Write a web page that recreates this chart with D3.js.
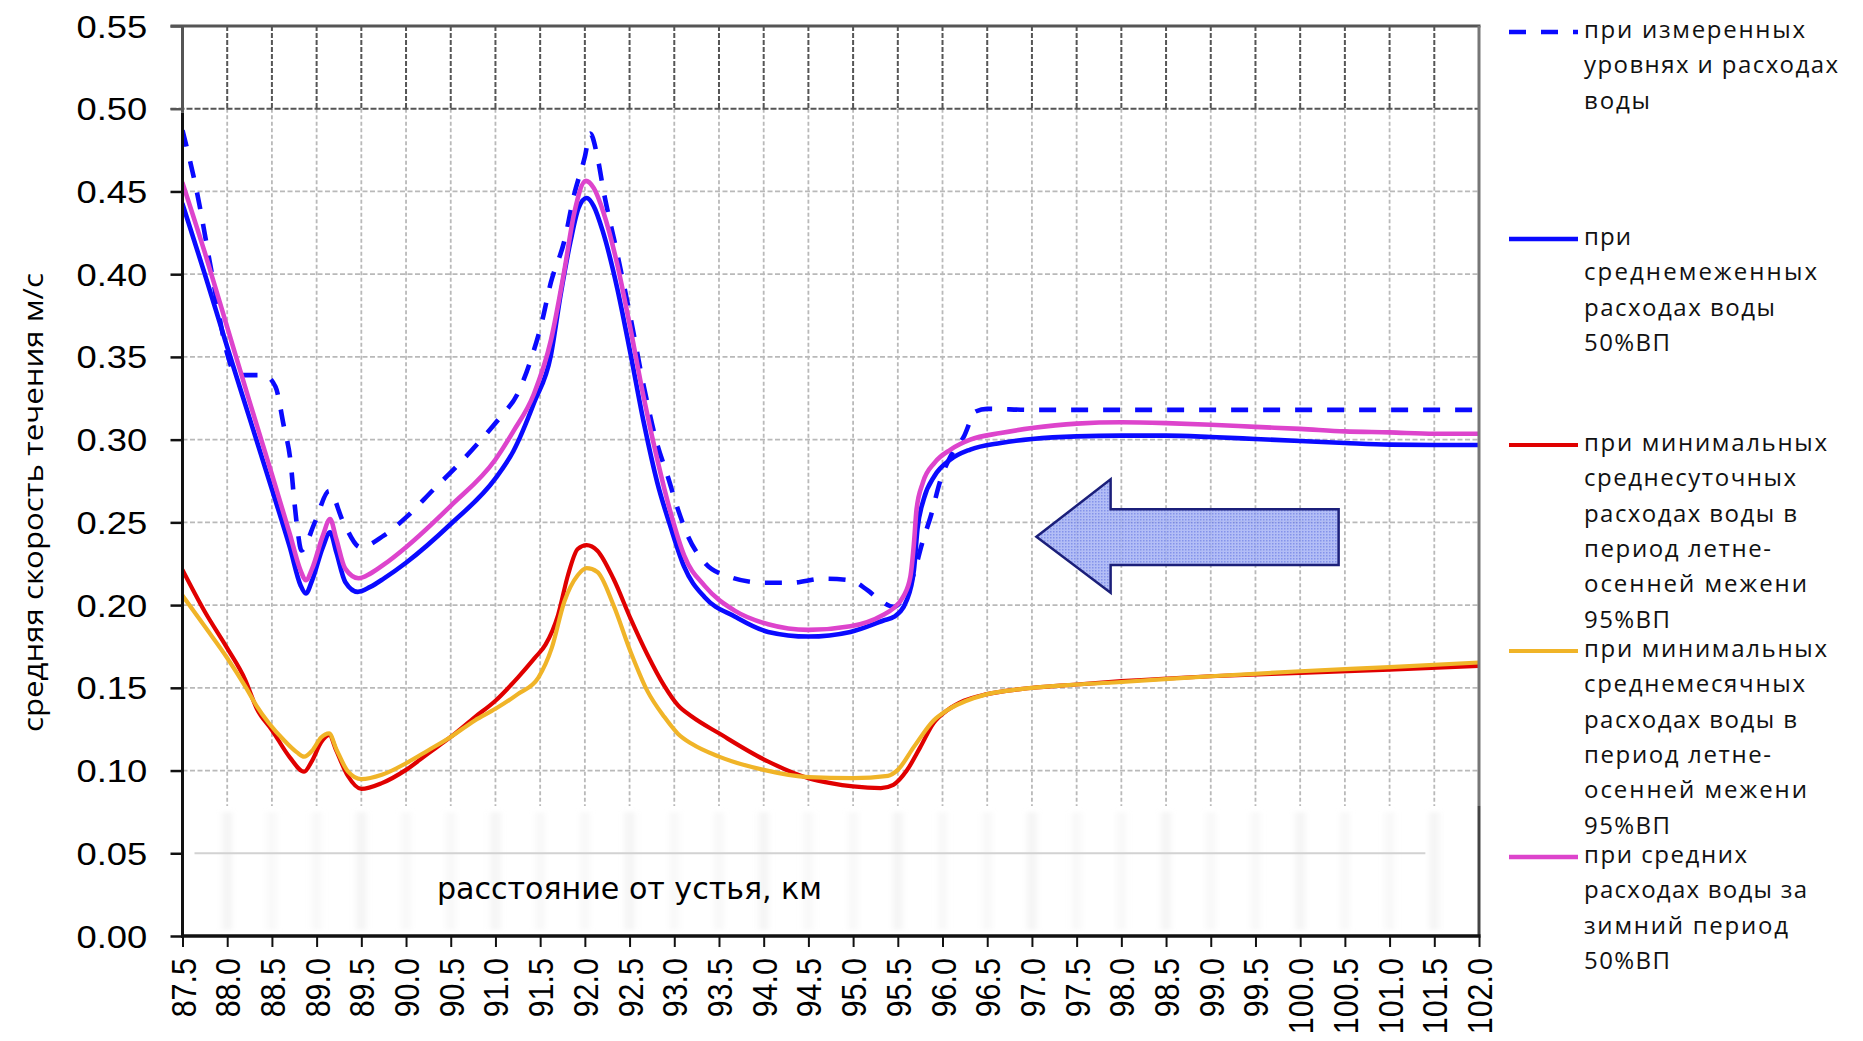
<!DOCTYPE html>
<html><head><meta charset="utf-8">
<script src="https://cdn.jsdelivr.net/npm/d3@7"></script>
<style>html,body{margin:0;padding:0;background:#fff;} svg{display:block}</style>
</head><body>
<svg id="chart" width="1863" height="1041"></svg>
<script>
// ---------- data ----------
const xTicks = [87.5,88.0,88.5,89.0,89.5,90.0,90.5,91.0,91.5,92.0,92.5,93.0,93.5,94.0,94.5,95.0,95.5,96.0,96.5,97.0,97.5,98.0,98.5,99.0,99.5,100.0,100.5,101.0,101.5,102.0];
const yTicks = [0,0.05,0.10,0.15,0.20,0.25,0.30,0.35,0.40,0.45,0.50,0.55];

const measured = [[87.5,0.487],[87.66,0.45],[87.83,0.40],[88.0,0.352],[88.1,0.339],[88.41,0.339],[88.54,0.332],[88.63,0.309],[88.71,0.286],[88.75,0.263],[88.79,0.244],[88.83,0.233],[88.98,0.25],[89.14,0.269],[89.3,0.25],[89.49,0.235],[89.75,0.242],[90.0,0.253],[90.31,0.27],[90.57,0.284],[90.84,0.30],[91.06,0.314],[91.25,0.328],[91.4,0.349],[91.51,0.369],[91.62,0.395],[91.77,0.42],[91.88,0.448],[92.0,0.471],[92.06,0.485],[92.14,0.471],[92.21,0.45],[92.36,0.413],[92.51,0.374],[92.66,0.332],[92.81,0.297],[92.92,0.279],[93.04,0.258],[93.15,0.242],[93.34,0.2256],[93.6,0.2174],[94.0,0.2135],[94.3,0.2135],[94.67,0.216],[94.97,0.215],[95.16,0.209],[95.3,0.203],[95.45,0.199],[95.6,0.208],[95.68,0.219],[95.77,0.237],[95.87,0.254],[95.98,0.276],[96.09,0.29],[96.24,0.302],[96.37,0.317],[96.5,0.3186],[97.0,0.318],[102.0,0.318]];

const mean50 = [[87.5,0.4425],[87.75,0.40],[88.0,0.356],[88.25,0.313],[88.5,0.27],[88.7,0.235],[88.82,0.212],[88.88,0.207],[88.95,0.215],[89.07,0.235],[89.15,0.244],[89.22,0.232],[89.32,0.214],[89.46,0.208],[89.6,0.211],[89.75,0.216],[90.0,0.2256],[90.5,0.249],[91.0,0.2766],[91.2,0.293],[91.43,0.322],[91.62,0.351],[91.73,0.388],[91.84,0.42],[91.93,0.44],[92.02,0.446],[92.1,0.441],[92.2,0.426],[92.36,0.392],[92.51,0.352],[92.66,0.31],[92.81,0.274],[92.96,0.247],[93.11,0.2232],[93.34,0.2047],[93.68,0.193],[94.05,0.1838],[94.5,0.181],[94.97,0.1838],[95.34,0.1907],[95.46,0.193],[95.6,0.203],[95.68,0.221],[95.72,0.246],[95.79,0.264],[95.91,0.278],[96.09,0.288],[96.31,0.294],[96.65,0.298],[97.0,0.3004],[97.5,0.302],[98.0,0.3024],[98.5,0.3024],[99.0,0.3016],[99.5,0.3004],[100.0,0.2992],[100.5,0.298],[101.0,0.297],[101.5,0.2968],[102.0,0.2968]];

const minDaily95 = [[87.5,0.2213],[87.75,0.196],[88.0,0.174],[88.2,0.155],[88.33,0.1375],[88.5,0.1245],[88.7,0.108],[88.86,0.0993],[88.95,0.106],[89.05,0.117],[89.14,0.1215],[89.22,0.112],[89.35,0.0967],[89.5,0.0889],[89.73,0.0924],[90.0,0.1004],[90.25,0.1104],[90.5,0.1203],[90.77,0.1323],[91.0,0.1422],[91.25,0.1562],[91.44,0.1681],[91.56,0.1761],[91.7,0.194],[91.81,0.2179],[91.92,0.2339],[92.02,0.2363],[92.14,0.2329],[92.32,0.2159],[92.51,0.192],[92.7,0.170],[92.89,0.151],[93.04,0.1395],[93.2,0.1325],[93.5,0.1225],[94.0,0.1068],[94.5,0.0954],[94.75,0.0924],[95.0,0.0904],[95.31,0.0894],[95.45,0.0914],[95.6,0.100],[95.75,0.114],[95.9,0.1287],[96.06,0.1367],[96.24,0.1422],[96.5,0.1462],[96.87,0.1492],[97.5,0.152],[98.0,0.154],[99.0,0.157],[100.0,0.159],[101.0,0.161],[102.0,0.1633]];

const minMonthly95 = [[87.5,0.2058],[87.75,0.187],[88.0,0.168],[88.2,0.151],[88.33,0.139],[88.63,0.1186],[88.78,0.111],[88.86,0.1084],[88.95,0.112],[89.05,0.12],[89.14,0.1225],[89.22,0.113],[89.35,0.0995],[89.5,0.0948],[89.73,0.0974],[90.0,0.1044],[90.25,0.1123],[90.5,0.1203],[90.77,0.1303],[91.0,0.1373],[91.25,0.1462],[91.48,0.1562],[91.63,0.1741],[91.77,0.202],[91.92,0.218],[92.02,0.2223],[92.14,0.22],[92.32,0.20],[92.51,0.172],[92.7,0.148],[92.89,0.1323],[93.04,0.1223],[93.2,0.116],[93.5,0.1084],[94.0,0.1004],[94.5,0.096],[95.0,0.0954],[95.39,0.0968],[95.5,0.1004],[95.68,0.1143],[95.9,0.1303],[96.06,0.1367],[96.5,0.1462],[96.87,0.1492],[97.5,0.152],[98.0,0.1535],[99.0,0.157],[100.0,0.160],[101.0,0.1625],[102.0,0.1653]];

const winter50 = [[87.5,0.4552],[87.75,0.413],[88.0,0.368],[88.25,0.323],[88.5,0.279],[88.7,0.243],[88.82,0.221],[88.88,0.215],[88.95,0.222],[89.07,0.242],[89.15,0.252],[89.22,0.240],[89.32,0.222],[89.47,0.2162],[89.6,0.219],[89.75,0.2244],[90.0,0.235],[90.5,0.26],[91.0,0.288],[91.2,0.305],[91.43,0.3276],[91.62,0.36],[91.77,0.402],[91.88,0.4367],[92.01,0.4564],[92.1,0.452],[92.21,0.437],[92.36,0.4065],[92.51,0.367],[92.66,0.325],[92.81,0.288],[92.96,0.2557],[93.11,0.230],[93.34,0.2116],[93.68,0.1965],[94.05,0.1884],[94.5,0.185],[94.97,0.1872],[95.34,0.1942],[95.45,0.198],[95.56,0.205],[95.64,0.217],[95.68,0.237],[95.71,0.258],[95.78,0.274],[95.91,0.286],[96.09,0.294],[96.31,0.30],[96.65,0.304],[97.0,0.307],[97.5,0.3097],[98.0,0.3105],[98.5,0.31],[99.0,0.309],[99.5,0.3077],[100.0,0.3065],[100.5,0.305],[101.0,0.3044],[101.5,0.3036],[102.0,0.3036]];

// flow-direction arrow annotation (km, m/s)
const arrowShape = [[97.05,0.2413],[97.88,0.276],[97.88,0.258],[100.43,0.258],[100.43,0.2242],[97.88,0.2242],[97.88,0.2075]];

const legendLabels = [
  ["при измеренных","уровнях и расходах","воды"],
  ["при","среднемеженных","расходах воды","50%ВП"],
  ["при минимальных","среднесуточных","расходах воды в","период летне-","осенней межени","95%ВП"],
  ["при минимальных","среднемесячных","расходах воды в","период летне-","осенней межени","95%ВП"],
  ["при средних","расходах воды за","зимний период","50%ВП"]
];
const yTitle = "средняя скорость течения м/с";
const xTitle = "расстояние от устья, км";

// ---------- styles ----------
const series = [
  {data: measured,     color:"#0a0aff", width:4.6, dash:"17,15"},
  {data: mean50,       color:"#0a0aff", width:4.6, dash:null},
  {data: minDaily95,   color:"#e00000", width:4.2, dash:null},
  {data: minMonthly95, color:"#f0b428", width:4.2, dash:null},
  {data: winter50,     color:"#dd44cc", width:4.6, dash:null}
];
const legendGroupY = [30, 237, 443, 649, 855];
const legendLineWidths = {"при измеренных":221,"уровнях и расходах":254,"воды":66,"при":47,"среднемеженных":233,"расходах воды":191,"50%ВП":86,"при минимальных":243,"среднесуточных":212,"расходах воды в":213,"период летне-":187,"осенней межени":223,"95%ВП":86,"среднемесячных":221,"при средних":163,"расходах воды за":223,"зимний период":204};

// ---------- drawing ----------
const svg = d3.select("#chart");
const x = d3.scaleLinear().domain([87.5,102]).range([182.5,1479]);
const y = d3.scaleLinear().domain([0,0.55]).range([936,26]);
const bandV = 0.0786; // top of blurred band near the axis
const bandY = y(bandV);

const defs = svg.append("defs");
const blur = defs.append("filter").attr("id","blur").attr("x","-50%").attr("y","-5%").attr("width","200%").attr("height","110%");
blur.append("feGaussianBlur").attr("stdDeviation","4 2");
const pat = defs.append("pattern").attr("id","dots").attr("patternUnits","userSpaceOnUse").attr("width",3).attr("height",3);
pat.append("rect").attr("width",3).attr("height",3).attr("fill","#a6b3f4");
pat.append("rect").attr("width",1.5).attr("height",1.5).attr("fill","#6f80e6");
const clip = defs.append("clipPath").attr("id","plotclip");
clip.append("rect").attr("x",x(87.5)).attr("y",y(0.55)).attr("width",x(102)-x(87.5)).attr("height",y(0)-y(0.55));

const grid = svg.append("g");
const inner = xTicks.slice(1,-1);
const gridColor = "#b9b9b9";
// light vertical grid
grid.selectAll("line.vg").data(inner).join("line")
  .attr("x1",d=>x(d)).attr("x2",d=>x(d)).attr("y1",y(0.5)).attr("y2",bandY)
  .attr("stroke",gridColor).attr("stroke-width",1.8).attr("stroke-dasharray","4,2.5");
// dark vertical grid in top band
grid.selectAll("line.vgd").data(inner).join("line")
  .attr("x1",d=>x(d)).attr("x2",d=>x(d)).attr("y1",y(0.55)).attr("y2",y(0.5))
  .attr("stroke","#555").attr("stroke-width",2).attr("stroke-dasharray","5,2");
// light horizontal grid
grid.selectAll("line.hg").data(yTicks.filter(v=>v>0.09 && v<0.49)).join("line")
  .attr("x1",x(87.5)).attr("x2",x(102)).attr("y1",d=>y(d)).attr("y2",d=>y(d))
  .attr("stroke",gridColor).attr("stroke-width",1.8).attr("stroke-dasharray","5,2.5");
// dark 0.50 line
grid.append("line").attr("x1",x(87.5)-12).attr("x2",x(102)).attr("y1",y(0.5)).attr("y2",y(0.5))
  .attr("stroke","#555").attr("stroke-width",2).attr("stroke-dasharray","6,2");
// blurred band near the x axis
const band = grid.append("g").attr("filter","url(#blur)");
band.selectAll("line").data(inner).join("line")
  .attr("x1",d=>x(d)).attr("x2",d=>x(d)).attr("y1",bandY+6).attr("y2",y(0)-6)
  .attr("stroke",(d,i)=> i%3===0 ? "#dcdcdc" : "#e9e9e9").attr("stroke-width",3);
grid.append("line").attr("x1",x(87.5)+12).attr("x2",x(101.4)).attr("y1",y(0.05)).attr("y2",y(0.05))
  .attr("stroke","#d2d2d2").attr("stroke-width",2);

// arrow annotation
svg.append("path")
  .attr("d", d3.line().x(d=>x(d[0])).y(d=>y(d[1]))(arrowShape)+"Z")
  .attr("fill","url(#dots)").attr("fill-opacity",0.85)
  .attr("stroke","#1b1f7a").attr("stroke-width",2.5).attr("stroke-linejoin","miter");

// series lines
const line = d3.line().x(d=>x(d[0])).y(d=>y(d[1])).curve(d3.curveMonotoneX);
const lines = svg.append("g").attr("clip-path","url(#plotclip)");
series.forEach(s=>{
  lines.append("path").attr("d",line(s.data)).attr("fill","none")
    .attr("stroke",s.color).attr("stroke-width",s.width)
    .attr("stroke-dasharray",s.dash).attr("stroke-linejoin","round")
    .attr("stroke-linecap", s.dash ? "butt" : "round");
});

// frame
svg.append("line").attr("x1",x(87.5)-12).attr("x2",x(102)+1.5).attr("y1",y(0.55)).attr("y2",y(0.55)).attr("stroke","#555").attr("stroke-width",3);
svg.append("line").attr("x1",x(102)).attr("x2",x(102)).attr("y1",y(0.55)).attr("y2",bandY).attr("stroke","#777").attr("stroke-width",3);
svg.append("line").attr("x1",x(102)).attr("x2",x(102)).attr("y1",bandY).attr("y2",y(0)).attr("stroke","#444").attr("stroke-width",3);
svg.append("line").attr("x1",x(87.5)).attr("x2",x(87.5)).attr("y1",y(0.55)).attr("y2",y(0.5)+4).attr("stroke","#555").attr("stroke-width",3);

// axes
const yAxis = svg.append("g").attr("transform",`translate(${x(87.5)},0)`)
  .call(d3.axisLeft(y).tickValues(yTicks).tickFormat(d3.format(".2f")).tickSize(12).tickSizeOuter(0));
yAxis.select(".domain").attr("d",`M0,${y(0.5)+4}V${y(0)+1.5}`).attr("stroke","#111").attr("stroke-width",3);
yAxis.selectAll(".tick line").attr("stroke",d=>d>=0.5?"#555":"#111").attr("stroke-width",2.5);
yAxis.selectAll(".tick text")
  .attr("x",null).attr("dy",null)
  .attr("transform","translate(-35.2,11) scale(1.155,1)")
  .attr("font-family","'Liberation Sans', Arial, sans-serif").attr("font-size",31.5).attr("fill","#000");

const xAxis = svg.append("g").attr("transform",`translate(0,${y(0)})`)
  .call(d3.axisBottom(x).tickValues(xTicks).tickFormat(d3.format(".1f")).tickSize(11).tickSizeOuter(0));
xAxis.select(".domain").attr("d",`M${x(87.5)-1.5},0H${x(102)+1.5}`).attr("stroke","#111").attr("stroke-width",3.5);
xAxis.selectAll(".tick line").attr("stroke","#111").attr("stroke-width",2);
xAxis.selectAll(".tick text")
  .attr("y",null).attr("dy","0.36em")
  .attr("transform","translate(0,22) scale(1.14,1) rotate(-90)")
  .attr("text-anchor","end")
  .attr("font-family","'Liberation Sans', Arial, sans-serif").attr("font-size",30.5).attr("fill","#000");

// titles
svg.append("text").text(yTitle)
  .attr("transform","translate(43,502.5) rotate(-90)")
  .attr("text-anchor","middle")
  .attr("font-family","'Open Sans', 'Noto Sans', sans-serif").attr("font-size",27)
  .attr("textLength",459).attr("lengthAdjust","spacingAndGlyphs").attr("fill","#000");
svg.append("text").text(xTitle)
  .attr("x",629.5).attr("y",899).attr("text-anchor","middle")
  .attr("font-family","'Liberation Sans Narrow', 'DejaVu Sans Condensed', sans-serif").attr("font-size",31)
  .attr("textLength",385).attr("lengthAdjust","spacingAndGlyphs").attr("fill","#000");

// legend
const lg = svg.append("g");
legendLabels.forEach((lines_, i)=>{
  const s = series[i];
  const gy = legendGroupY[i];
  lg.append("line").attr("x1",1509).attr("x2",1578).attr("y1",gy+2).attr("y2",gy+2)
    .attr("stroke",s.color).attr("stroke-width",s.width).attr("stroke-dasharray",s.dash);
  lines_.forEach((t,j)=>{
    lg.append("text").text(t).attr("x",1584).attr("y",gy + j*35.3 + 8)
      .attr("font-family","'Open Sans', 'Noto Sans', sans-serif").attr("font-size",24)
      .attr("textLength",legendLineWidths[t]).attr("lengthAdjust","spacing").attr("fill","#111");
  });
});
</script>
</body></html>
